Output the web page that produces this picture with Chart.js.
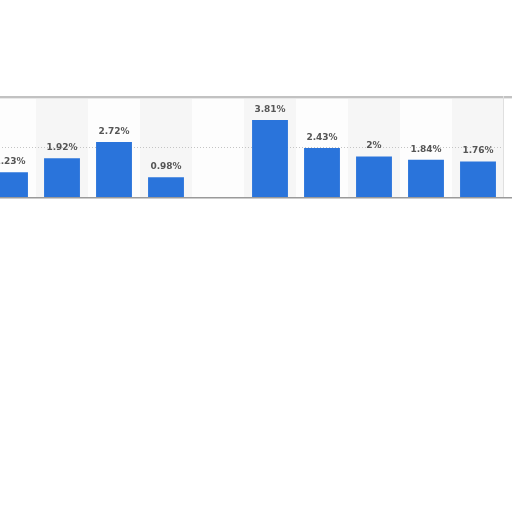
<!DOCTYPE html>
<html>
<head>
<meta charset="utf-8">
<script src="https://cdn.jsdelivr.net/npm/chart.js@4"></script>
<style>
    html, body { margin: 0; padding: 0; background: #fff; width: 512px; height: 512px; overflow: hidden; }
    #wrap { position: absolute; left: -16px; top: 96px; width: 532px; height: 103px; }
</style>
</head>
<body>
<div id="wrap"><canvas id="share-chart"></canvas></div>
<script>
// data (5th column is empty)
const categories = ['1', '2', '3', '4', '5', '6', '7', '8', '9', '10'];
const shares = [1.23, 1.92, 2.72, 0.98, null, 3.81, 2.43, 2, 1.84, 1.76];
const yMax = 5;
const gridValue = 2.5;

// stripes, top border, dashed grid, axis line and value labels
const decorations = {
    id: 'decorations',
    beforeDatasetsDraw(chart) {
        let ctx = chart.ctx;
        let area = chart.chartArea;
        let x = chart.scales.x;
        let y = chart.scales.y;
        let half = (x.getPixelForValue(1) - x.getPixelForValue(0)) / 2;
        ctx.save();
        categories.forEach((c, i) => {
            let cx = x.getPixelForValue(i);
            ctx.fillStyle = i % 2 ? '#f6f6f6' : '#fdfdfd';
            ctx.fillRect(cx - half, area.top, half * 2, area.bottom - area.top);
        });
        // dashed grid line
        let gy = Math.round(y.getPixelForValue(gridValue)) + 0.5;
        ctx.strokeStyle = '#c4c4c4';
        ctx.lineWidth = 1;
        ctx.setLineDash([1, 2]);
        ctx.beginPath();
        ctx.moveTo(area.left, gy);
        ctx.lineTo(area.right, gy);
        ctx.stroke();
        ctx.setLineDash([]);
        // top border
        ctx.fillStyle = '#c2c2c2';
        ctx.fillRect(0, area.top, chart.width, 2);
        ctx.fillStyle = '#e8e8e8';
        ctx.fillRect(0, area.top + 2, chart.width, 1);
        // right edge
        ctx.fillStyle = '#e0e0e0';
        ctx.fillRect(area.right - 1, area.top, 1, area.bottom - area.top);
        ctx.restore();
    },
    afterDatasetsDraw(chart) {
        let ctx = chart.ctx;
        let area = chart.chartArea;
        let meta = chart.getDatasetMeta(0);
        ctx.save();
        // axis line
        ctx.fillStyle = '#9a9a9a';
        ctx.fillRect(0, area.bottom, chart.width, 1.5);
        ctx.font = 'bold 9px "DejaVu Sans"';
        ctx.fillStyle = '#555';
        ctx.textAlign = 'center';
        ctx.textBaseline = 'bottom';
        meta.data.forEach((bar, i) => {
            if (shares[i] === null) return;
            ctx.fillText(shares[i] + '%', bar.x, bar.y - 6);
        });
        ctx.restore();
    }
};

new Chart(document.getElementById('share-chart'), {
    type: 'bar',
    data: {
        labels: categories,
        datasets: [{
            data: shares,
            backgroundColor: '#2a74db',
            borderWidth: 0,
            categoryPercentage: 1,
            barPercentage: 0.69
        }]
    },
    options: {
        responsive: true,
        maintainAspectRatio: false,
        animation: false,
        layout: { padding: { top: 0, bottom: 2, left: 0, right: 12 } },
        plugins: {
            legend: { display: false },
            tooltip: { enabled: false }
        },
        scales: {
            x: { display: false },
            y: { display: false, min: 0, max: yMax }
        }
    },
    plugins: [decorations]
});
</script>
</body>
</html>
